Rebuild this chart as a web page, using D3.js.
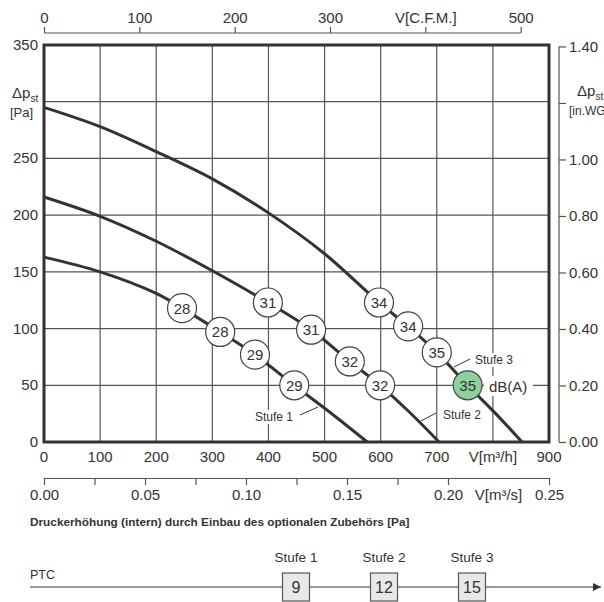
<!DOCTYPE html>
<html>
<head>
<meta charset="utf-8">
<script src="https://cdn.jsdelivr.net/npm/d3@7"></script>
<style>
  body { margin: 0; background: #fff; }
  svg { font-family: "Liberation Sans", Arial, sans-serif; }
  text { fill: #333; }
</style>
</head>
<body>
<script>
// fan curves: [V m3/h, dp Pa]
const stufe1 = [[0,163],[100,150],[200,131],[246,118],[314,97],[376,77],[446,50],[510,26],[576,0]];
const stufe2 = [[0,216],[100,199],[200,177],[300,151],[399,123],[476,99],[545,71],[599,50],[652,26],[704,0]];
const stufe3 = [[0,295],[100,278],[200,256],[300,232],[400,202],[500,166],[597,123],[649,102],[700,79],[755,50],[805,25],[852,0]];

// sound levels on the curves: [V, dp, dB(A)]
const sound1 = [[246,118,28],[314,97,28],[376,77,29],[446,50,29]];
const sound2 = [[399,123,31],[476,99,31],[545,71,32],[599,50,32]];
const sound3 = [[597,123,34],[649,102,34],[700,79,35],[755,50,35]];

const xTicks = [0,100,200,300,400,500,600,700,800,900];
const yTicks = [0,50,100,150,200,250,300,350];
const cfmTicks = [0,100,200,300,400,500];
const m3sTicks = [0,0.025,0.05,0.075,0.1,0.125,0.15,0.175,0.2,0.25];
const inwgTicks = [0,0.2,0.4,0.6,0.8,1.0,1.2,1.4];

const stages = ["Stufe 1","Stufe 2","Stufe 3"];
const ptcValues = [9,12,15];

const W = 604, H = 602;
const svg = d3.select("body").append("svg").attr("width", W).attr("height", H);

const x = d3.scaleLinear().domain([0,900]).range([44,549]);
const y = d3.scaleLinear().domain([0,350]).range([442,45]);
const xCfm = d3.scaleLinear().domain([0,900/1.699]).range([44,549]);
const xM3s = d3.scaleLinear().domain([0,0.25]).range([44,549]);
const yInwg = d3.scaleLinear().domain([0,350/249.09]).range([442,45]);

// grid
const grid = svg.append("g").attr("stroke", "#555").attr("stroke-width", 1.2);
grid.selectAll("line.v").data(xTicks.slice(1,-1)).enter().append("line")
  .attr("x1", d => x(d)).attr("x2", d => x(d)).attr("y1", y(0)).attr("y2", y(350));
grid.selectAll("line.h").data(yTicks.slice(1,-1)).enter().append("line")
  .attr("x1", x(0)).attr("x2", x(900)).attr("y1", d => y(d)).attr("y2", d => y(d));

function label(t, lx, ly, size, anchor) {
  return svg.append("text").attr("x", lx).attr("y", ly).attr("font-size", size)
    .attr("text-anchor", anchor || "start").text(t);
}

// curves
const line = d3.line().x(d => x(d[0])).y(d => y(d[1])).curve(d3.curveCatmullRom.alpha(0.5));
svg.append("g").selectAll("path").data([stufe1, stufe2, stufe3]).enter().append("path")
  .attr("d", line).attr("fill", "none").attr("stroke", "#333").attr("stroke-width", 3);

// stage labels with leaders (white background hides grid)
const stageLabels = [
  {t: "Stufe 1", lx: 255, ly: 421, from: [300,415], to: [318,407]},
  {t: "Stufe 2", lx: 443, ly: 419, from: [421,421], to: [436,413]},
  {t: "Stufe 3", lx: 475, ly: 364, from: [454,367], to: [470,359]}
];
stageLabels.forEach(s => {
  svg.append("rect").attr("x", s.lx - 2).attr("y", s.ly - 11).attr("width", 43).attr("height", 14).attr("fill", "#fff");
  label(s.t, s.lx, s.ly, 12);
  svg.append("line").attr("x1", s.from[0]).attr("y1", s.from[1]).attr("x2", s.to[0]).attr("y2", s.to[1])
    .attr("stroke", "#333").attr("stroke-width", 1);
});

// dB(A) label
svg.append("rect").attr("x", 484).attr("y", 376).attr("width", 49).attr("height", 20).attr("fill", "#fff");
label("dB(A)", 489, 392, 15);

// frame
svg.append("rect").attr("x", x(0)).attr("y", y(350)).attr("width", x(900) - x(0)).attr("height", y(0) - y(350))
  .attr("fill", "none").attr("stroke", "#333").attr("stroke-width", 3);

// sound circles
const allSound = sound1.concat(sound2, sound3);
const circ = svg.append("g").selectAll("g").data(allSound).enter().append("g")
  .attr("transform", d => `translate(${x(d[0])},${y(d[1])})`);
circ.append("circle").attr("r", 14.5)
  .attr("fill", (d, i) => i === allSound.length - 1 ? "#8fd09f" : "#fff")
  .attr("stroke", "#444").attr("stroke-width", 1.2);
circ.append("text").attr("text-anchor", "middle").attr("dy", "0.36em").attr("font-size", 15).text(d => d[2]);

// bottom x axis (m3/h)
svg.append("g").selectAll("text").data(xTicks).enter().append("text")
  .attr("x", d => x(d)).attr("y", 462).attr("text-anchor", "middle").attr("font-size", 15)
  .text(d => d === 800 ? "V[m³/h]" : d);

// left y axis (Pa)
svg.append("g").selectAll("text").data(yTicks.filter(d => d !== 300)).enter().append("text")
  .attr("x", 38).attr("y", d => y(d) + 5).attr("text-anchor", "end").attr("font-size", 15).text(d => d);
const lp = svg.append("text").attr("x", 12).attr("y", 98).attr("font-size", 15);
lp.append("tspan").text("Δp");
lp.append("tspan").attr("font-size", 10).attr("dy", 4).text("st");
label("[Pa]", 10, 117, 13);

// top axis (CFM)
const gTop = svg.append("g").attr("transform", "translate(0,33)")
  .call(d3.axisTop(xCfm).tickValues(cfmTicks).tickSize(6).tickSizeOuter(0).tickPadding(4)
    .tickFormat(d => d === 400 ? "V[C.F.M.]" : d));
gTop.select(".domain").remove();
gTop.append("line").attr("x1", xCfm(0)).attr("x2", xCfm(500)).attr("stroke", "#555").attr("stroke-width", 1.2);
gTop.selectAll(".tick line").attr("stroke", "#555").attr("stroke-width", 1.2);
gTop.selectAll(".tick text").attr("font-size", 15).attr("font-family", null).style("fill", "#333");

// m3/s axis
const gM3s = svg.append("g").attr("transform", "translate(0,478)")
  .call(d3.axisBottom(xM3s).tickValues(m3sTicks).tickSize(7).tickSizeOuter(0).tickPadding(4)
    .tickFormat(d => [0.025,0.075,0.125,0.175].includes(d) ? "" : d3.format(".2f")(d)));
gM3s.select(".domain").attr("stroke", "#555").attr("stroke-width", 1.2);
gM3s.selectAll(".tick line").attr("stroke", "#555").attr("stroke-width", 1.2);
gM3s.selectAll(".tick text").attr("font-size", 15).attr("font-family", null).style("fill", "#333");
gM3s.append("text").attr("x", xM3s(0.225)).attr("y", 22).attr("text-anchor", "middle")
  .attr("font-size", 15).text("V[m³/s]");

// right axis (in.WG)
const gR = svg.append("g").attr("transform", "translate(559,0)")
  .call(d3.axisRight(yInwg).tickValues(inwgTicks).tickSize(7).tickSizeOuter(0).tickPadding(3)
    .tickFormat(d => d === 1.2 ? "" : d3.format(".2f")(d)));
gR.select(".domain").attr("d", `M0,${yInwg(1.4)}V${yInwg(0)}`).attr("stroke", "#555").attr("stroke-width", 1.2);
gR.selectAll(".tick line").attr("stroke", "#555").attr("stroke-width", 1.2);
gR.selectAll(".tick text").attr("font-size", 15).attr("font-family", null).style("fill", "#333");
const rp = svg.append("text").attr("x", 577).attr("y", 96).attr("font-size", 15);
rp.append("tspan").text("Δp");
rp.append("tspan").attr("font-size", 10).attr("dy", 4).text("st");
label("[in.WG]", 569, 115, 12);

// accessory pressure increase
svg.append("text").attr("x", 30).attr("y", 526).attr("font-size", 11.8).attr("font-weight", "bold")
  .text("Druckerhöhung (intern) durch Einbau des optionalen Zubehörs [Pa]");
label("PTC", 30, 579, 12.5);

svg.append("defs").append("marker").attr("id", "arr").attr("viewBox", "0 0 10 10")
  .attr("refX", 10).attr("refY", 5).attr("markerWidth", 12).attr("markerHeight", 8)
  .attr("markerUnits", "userSpaceOnUse").attr("orient", "auto")
  .append("path").attr("d", "M0,0L10,5L0,10Z").attr("fill", "#333");
svg.append("line").attr("x1", 30).attr("x2", 601).attr("y1", 587).attr("y2", 587)
  .attr("stroke", "#333").attr("stroke-width", 1.2).attr("marker-end", "url(#arr)");

const xs = d3.scalePoint().domain(stages).range([296,472]);
const box = svg.append("g").selectAll("g").data(stages).enter().append("g")
  .attr("transform", d => `translate(${xs(d)},587)`);
box.append("rect").attr("x", -13.5).attr("y", -14).attr("width", 27).attr("height", 28)
  .attr("fill", "#e8e8e8").attr("stroke", "#555").attr("stroke-width", 1.2);
box.append("text").attr("text-anchor", "middle").attr("dy", "0.36em").attr("font-size", 16)
  .text((d, i) => ptcValues[i]);
box.append("text").attr("text-anchor", "middle").attr("y", -25).attr("font-size", 13.5).text(d => d);
</script>
</body>
</html>
